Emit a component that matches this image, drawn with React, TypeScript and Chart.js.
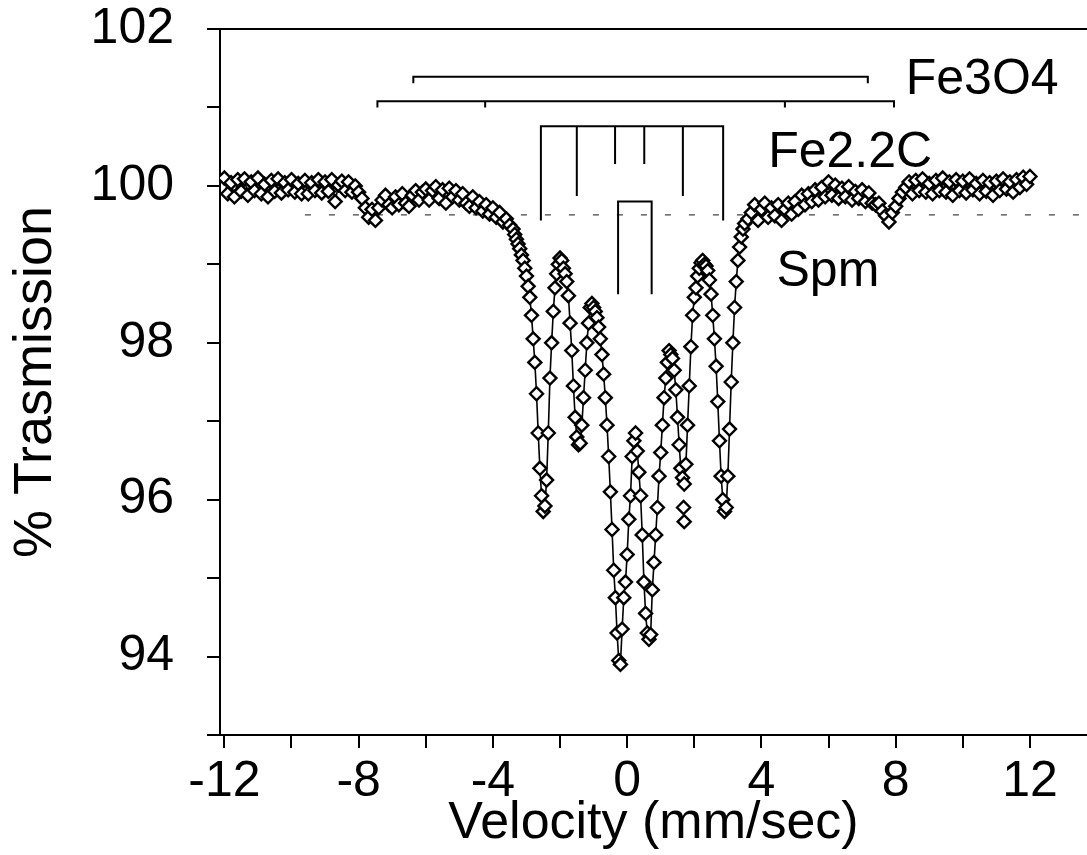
import React, { useEffect, useRef } from 'react';
import { Chart, registerables } from 'chart.js';

Chart.register(...registerables);

// ---- Measured spectrum (velocity mm/s, % transmission) ----
const leftWingVelocity = [
  -12.0, -11.9, -11.8, -11.7, -11.6, -11.5, -11.4, -11.3, -11.2, -11.1,
  -11.0, -10.9, -10.8, -10.7, -10.6, -10.5, -10.4, -10.3, -10.2, -10.1,
  -10.0, -9.9, -9.8, -9.7, -9.6, -9.5, -9.4, -9.3, -9.2, -9.1,
  -9.0, -8.9, -8.8, -8.7, -8.6, -8.5, -8.4, -8.3, -8.2, -8.1,
  -8.0, -7.9, -7.8, -7.7, -7.6, -7.5, -7.4, -7.3, -7.2, -7.1,
  -7.0, -6.9, -6.8, -6.7, -6.6, -6.5, -6.4, -6.3, -6.2, -6.1,
  -6.0, -5.9, -5.8, -5.7, -5.6, -5.5, -5.4, -5.3, -5.2, -5.1,
  -5.0, -4.9, -4.8, -4.7, -4.6, -4.5, -4.4, -4.3, -4.2, -4.1,
  -4.0, -3.9, -3.8, -3.7, -3.6, -3.5,
];
const leftWingTransmission = [
  100.10, 99.90, 100.04, 99.86, 100.08, 99.93, 100.09, 99.88, 100.05, 99.94,
  100.10, 99.90, 100.02, 99.86, 100.07, 99.93, 100.09, 99.91, 100.04, 99.95,
  100.08, 99.92, 100.03, 99.90, 100.07, 99.90, 100.04, 99.94, 100.08, 99.91,
  100.05, 99.93, 100.08, 99.80, 100.01, 100.06, 99.94, 100.05, 99.92, 100.00,
  99.92, 99.84, 99.72, 99.60, 99.70, 99.56, 99.72, 99.82, 99.88, 99.76,
  99.72, 99.86, 99.76, 99.90, 99.78, 99.74, 99.88, 99.94, 99.82, 99.92,
  99.96, 99.82, 99.94, 99.99, 99.84, 99.95, 99.78, 99.97, 99.86, 99.94,
  99.82, 99.90, 99.78, 99.74, 99.86, 99.72, 99.80, 99.68, 99.76, 99.64,
  99.72, 99.60, 99.66, 99.54, 99.58, 99.50,
];
const coreVelocity = [
  -3.40, -3.35, -3.30, -3.25, -3.20, -3.15, -3.10, -3.05, -3.00, -2.95,
  -2.90, -2.85, -2.80, -2.75, -2.70, -2.65, -2.60, -2.55, -2.50, -2.45,
  -2.40, -2.35, -2.30, -2.25, -2.20, -2.15, -2.10, -2.05, -2.00, -1.95,
  -1.90, -1.85, -1.80, -1.75, -1.70, -1.65, -1.60, -1.55, -1.50, -1.45,
  -1.40, -1.35, -1.30, -1.25, -1.20, -1.15, -1.10, -1.05, -1.00, -0.95,
  -0.90, -0.85, -0.80, -0.75, -0.70, -0.65, -0.60, -0.55, -0.50, -0.45,
  -0.40, -0.35, -0.30, -0.25, -0.20, -0.15, -0.10, -0.05, 0.00, 0.05,
  0.10, 0.15, 0.20, 0.25, 0.30, 0.35, 0.40, 0.45, 0.50, 0.55,
  0.60, 0.65, 0.70, 0.75, 0.80, 0.85, 0.90, 0.95, 1.00, 1.05,
  1.10, 1.15, 1.20, 1.25, 1.30, 1.35, 1.40, 1.45, 1.50, 1.55,
  1.60, 1.65, 1.70, 1.75, 1.80, 1.85, 1.90, 1.95, 2.00, 2.05,
  2.10, 2.15, 2.20, 2.25, 2.30, 2.35, 2.40, 2.45, 2.50, 2.55,
  2.60, 2.65, 2.70, 2.75, 2.80, 2.85, 2.90, 2.95, 3.00, 3.05,
  3.10, 3.15, 3.20, 3.25, 3.30, 3.35, 3.40, 3.45, 3.50,
];
const coreTransmission = [
  99.45, 99.38, 99.32, 99.26, 99.20, 99.12, 99.05, 98.95, 98.85, 98.72,
  98.58, 98.35, 98.05, 97.75, 97.35, 96.85, 96.40, 96.05, 95.85, 95.92,
  96.25, 96.85, 97.55, 98.00, 98.40, 98.70, 98.88, 99.00, 99.08, 99.05,
  98.95, 98.88, 98.78, 98.60, 98.25, 97.90, 97.45, 97.05, 96.80, 96.70,
  96.72, 96.95, 97.30, 97.65, 98.00, 98.25, 98.45, 98.50, 98.45, 98.40,
  98.32, 98.20, 98.05, 97.85, 97.60, 97.30, 96.95, 96.55, 96.10, 95.62,
  95.10, 94.75, 94.30, 93.95, 93.90, 94.35, 94.75, 94.95, 95.30, 95.75,
  96.05, 96.55, 96.75, 96.85, 96.62, 96.35, 96.05, 95.55, 94.95, 94.55,
  94.30, 94.22, 94.28, 94.85, 95.20, 95.55, 95.90, 96.30, 96.60, 96.95,
  97.30, 97.55, 97.75, 97.90, 97.85, 97.80, 97.65, 97.40, 97.05, 96.70,
  96.40, 96.28, 96.20, 96.45, 96.95, 97.45, 97.95, 98.35, 98.58, 98.70,
  98.85, 98.95, 99.02, 99.05, 99.00, 98.98, 98.92, 98.80, 98.62, 98.35,
  98.05, 97.70, 97.25, 96.75, 96.30, 96.00, 95.85, 95.90, 96.30, 96.90,
  97.50, 98.00, 98.45, 98.78, 99.05, 99.22, 99.35, 99.45, 99.52,
];
const rightWingVelocity = [
  3.6, 3.7, 3.8, 3.9, 4.0, 4.1, 4.2, 4.3, 4.4, 4.5,
  4.6, 4.7, 4.8, 4.9, 5.0, 5.1, 5.2, 5.3, 5.4, 5.5,
  5.6, 5.7, 5.8, 5.9, 6.0, 6.1, 6.2, 6.3, 6.4, 6.5,
  6.6, 6.7, 6.8, 6.9, 7.0, 7.1, 7.2, 7.3, 7.4, 7.5,
  7.6, 7.7, 7.8, 7.9, 8.0, 8.1, 8.2, 8.3, 8.4, 8.5,
  8.6, 8.7, 8.8, 8.9, 9.0, 9.1, 9.2, 9.3, 9.4, 9.5,
  9.6, 9.7, 9.8, 9.9, 10.0, 10.1, 10.2, 10.3, 10.4, 10.5,
  10.6, 10.7, 10.8, 10.9, 11.0, 11.1, 11.2, 11.3, 11.4, 11.5,
  11.6, 11.7, 11.8, 11.9, 12.0,
];
const rightWingTransmission = [
  99.58, 99.66, 99.76, 99.56, 99.70, 99.78, 99.60, 99.72, 99.62, 99.76,
  99.56, 99.70, 99.78, 99.64, 99.80, 99.70, 99.88, 99.76, 99.90, 99.80,
  99.95, 99.82, 99.98, 99.86, 100.05, 99.88, 100.01, 99.84, 99.97, 99.86,
  99.99, 99.82, 99.93, 99.84, 99.95, 99.80, 99.91, 99.78, 99.76, 99.78,
  99.68, 99.62, 99.54, 99.66, 99.74, 99.84, 99.92, 99.98, 100.05, 99.90,
  100.07, 99.94, 100.09, 99.92, 100.03, 99.90, 100.07, 99.94, 100.10, 99.92,
  100.05, 99.88, 100.08, 99.94, 100.06, 99.91, 100.09, 99.95, 100.03, 99.90,
  100.07, 99.93, 100.04, 99.88, 100.06, 99.94, 100.09, 99.96, 100.05, 99.92,
  100.08, 99.98, 100.11, 100.02, 100.12,
];
// points lying off the fitted curve
const strayVelocity = [1.68, 1.70];
const strayTransmission = [95.90, 95.72];

// ---- Axis ticks ----
const xTickValues = [-12, -10, -8, -6, -4, -2, 0, 2, 4, 6, 8, 10, 12];
const yTickValues = [93, 94, 95, 96, 97, 98, 99, 100, 101, 102];

// ---- Stick diagrams of the fitted components ----
const fe3o4ALevel = 101.39;
const fe3o4ALines = [-6.37, 7.17];
const fe3o4BLevel = 101.08;
const fe3o4BLines = [-7.44, -4.23, 4.7, 7.95];
const fe3o4TickDepth = 0.08;
const fe22cLevel = 100.76;
const fe22cLines = [-2.57, -1.5, -0.36, 0.51, 1.66, 2.86];
const fe22cEnds = [99.56, 99.87, 100.28, 100.28, 99.87, 99.56];
const spmLevel = 99.8;
const spmLines = [-0.27, 0.73];
const spmEnds = [98.62, 98.62];
const baselineLevel = 99.63;
const baselineSpan = [-9.6, 13.7];

// ---- Component labels ----
const labelTexts = ['Fe3O4', 'Fe2.2C', 'Spm'];
const labelX = [8.3, 4.2, 4.45];
const labelY = [101.35, 100.42, 98.9];

type Pt = { x: number; y: number | null };

function stickPoints(level: number, lines: number[], ends: number[]): Pt[] {
  const pts: Pt[] = [];
  const n = lines.length;
  pts.push({ x: lines[0], y: ends[0] });
  pts.push({ x: lines[0], y: level });
  pts.push({ x: lines[n - 1], y: level });
  pts.push({ x: lines[n - 1], y: ends[n - 1] });
  for (let i = 1; i < n - 1; i++) {
    pts.push({ x: lines[i], y: null });
    pts.push({ x: lines[i], y: level });
    pts.push({ x: lines[i], y: ends[i] });
  }
  return pts;
}

const FONT = '"Liberation Sans", Arial, Helvetica, sans-serif';

export default function App() {
  const ref = useRef<HTMLCanvasElement | null>(null);

  useEffect(() => {
    if (!ref.current) return;
    const velocity = [...leftWingVelocity, ...coreVelocity, ...rightWingVelocity];
    const transmission = [...leftWingTransmission, ...coreTransmission, ...rightWingTransmission];
    const spectrum = velocity.map((v, i) => ({ x: v, y: transmission[i] }));
    const stray = strayVelocity.map((v, i) => ({ x: v, y: strayTransmission[i] }));

    const fe3o4A = stickPoints(fe3o4ALevel, fe3o4ALines, fe3o4ALines.map(() => fe3o4ALevel - fe3o4TickDepth));
    const fe3o4B = stickPoints(fe3o4BLevel, fe3o4BLines, fe3o4BLines.map(() => fe3o4BLevel - fe3o4TickDepth));
    const fe22c = stickPoints(fe22cLevel, fe22cLines, fe22cEnds);
    const spm = stickPoints(spmLevel, spmLines, spmEnds);
    const baseline = baselineSpan.map((v) => ({ x: v, y: baselineLevel }));

    const stickStyle = {
      type: 'line' as const,
      borderColor: '#000',
      borderWidth: 2,
      pointRadius: 0,
      spanGaps: false,
      fill: false,
      tension: 0,
    };

    const overlay = {
      id: 'overlay',
      afterDatasetsDraw(chart: any) {
        const { ctx, chartArea, scales } = chart;
        ctx.save();
        ctx.strokeStyle = '#000';
        ctx.lineWidth = 2;
        ctx.beginPath();
        ctx.moveTo(chartArea.left, chartArea.top);
        ctx.lineTo(chartArea.right, chartArea.top);
        ctx.stroke();
        ctx.fillStyle = '#000';
        ctx.font = `50px ${FONT}`;
        ctx.textAlign = 'left';
        ctx.textBaseline = 'middle';
        labelTexts.forEach((t, i) => {
          ctx.fillText(t, scales.x.getPixelForValue(labelX[i]), scales.y.getPixelForValue(labelY[i]));
        });
        ctx.restore();
      },
    };

    const pointLook = {
      pointStyle: 'rectRot',
      pointRadius: 6.5,
      pointBorderWidth: 2.4,
      pointBackgroundColor: '#fff',
      pointBorderColor: '#000',
    };

    const chart = new Chart(ref.current, {
      type: 'scatter',
      data: {
        datasets: [
          {
            label: 'Spectrum',
            data: spectrum,
            showLine: true,
            borderColor: '#000',
            borderWidth: 1.6,
            ...pointLook,
          } as any,
          {
            label: 'Off-fit points',
            data: stray,
            showLine: false,
            ...pointLook,
          } as any,
          { ...stickStyle, label: 'Fe3O4 A', data: fe3o4A } as any,
          { ...stickStyle, label: 'Fe3O4 B', data: fe3o4B } as any,
          { ...stickStyle, label: 'Fe2.2C', data: fe22c } as any,
          { ...stickStyle, label: 'Spm', data: spm } as any,
          {
            ...stickStyle,
            label: 'Baseline',
            data: baseline,
            borderWidth: 1.2,
            borderColor: '#444',
            borderDash: [6, 18],
          } as any,
        ],
      },
      options: {
        responsive: false,
        animation: false,
        events: [],
        layout: { autoPadding: false, padding: { top: 29, right: 0, bottom: 0, left: 0 } },
        plugins: {
          legend: { display: false },
          tooltip: { enabled: false },
        },
        scales: {
          x: {
            type: 'linear',
            min: -12.13,
            max: 13.7,
            afterBuildTicks: (axis: any) => {
              axis.ticks = xTickValues.map((v) => ({ value: v }));
            },
            afterFit: (axis: any) => {
              axis.height = 120;
              axis.paddingLeft = 0;
              axis.paddingRight = 0;
            },
            ticks: {
              autoSkip: false,
              maxRotation: 0,
              padding: 4,
              color: '#000',
              font: { family: FONT, size: 50 },
              callback: (v: any) => (Number(v) % 4 === 0 ? String(v) : ''),
            },
            grid: {
              drawOnChartArea: false,
              drawTicks: true,
              tickLength: 13,
              color: '#000',
              lineWidth: 2,
            },
            border: { display: true, color: '#000', width: 2 },
            title: {
              display: true,
              text: 'Velocity (mm/sec)',
              color: '#000',
              font: { family: FONT, size: 52 },
              padding: { top: 0, bottom: 0 },
            },
          },
          y: {
            type: 'linear',
            min: 93,
            max: 102,
            afterBuildTicks: (axis: any) => {
              axis.ticks = yTickValues.map((v) => ({ value: v }));
            },
            afterFit: (axis: any) => {
              axis.width = 220;
              axis.paddingTop = 0;
              axis.paddingBottom = 0;
            },
            ticks: {
              autoSkip: false,
              padding: 33,
              color: '#000',
              font: { family: FONT, size: 50 },
              callback: (v: any) => (Number(v) % 2 === 0 ? String(v) : ''),
            },
            grid: {
              drawOnChartArea: false,
              drawTicks: true,
              tickLength: 13,
              color: '#000',
              lineWidth: 2,
            },
            border: { display: true, color: '#000', width: 2 },
            title: {
              display: true,
              text: '% Trasmission',
              color: '#000',
              font: { family: FONT, size: 54 },
              padding: { top: 4, bottom: 0 },
            },
          },
        },
      },
      plugins: [overlay],
    } as any);

    return () => chart.destroy();
  }, []);

  return (
    <div style={{ position: 'fixed', left: 0, top: 0, width: 1087, height: 855, background: '#fff' }}>
      <canvas ref={ref} width={1087} height={855} style={{ width: 1087, height: 855, display: 'block' }} />
    </div>
  );
}
